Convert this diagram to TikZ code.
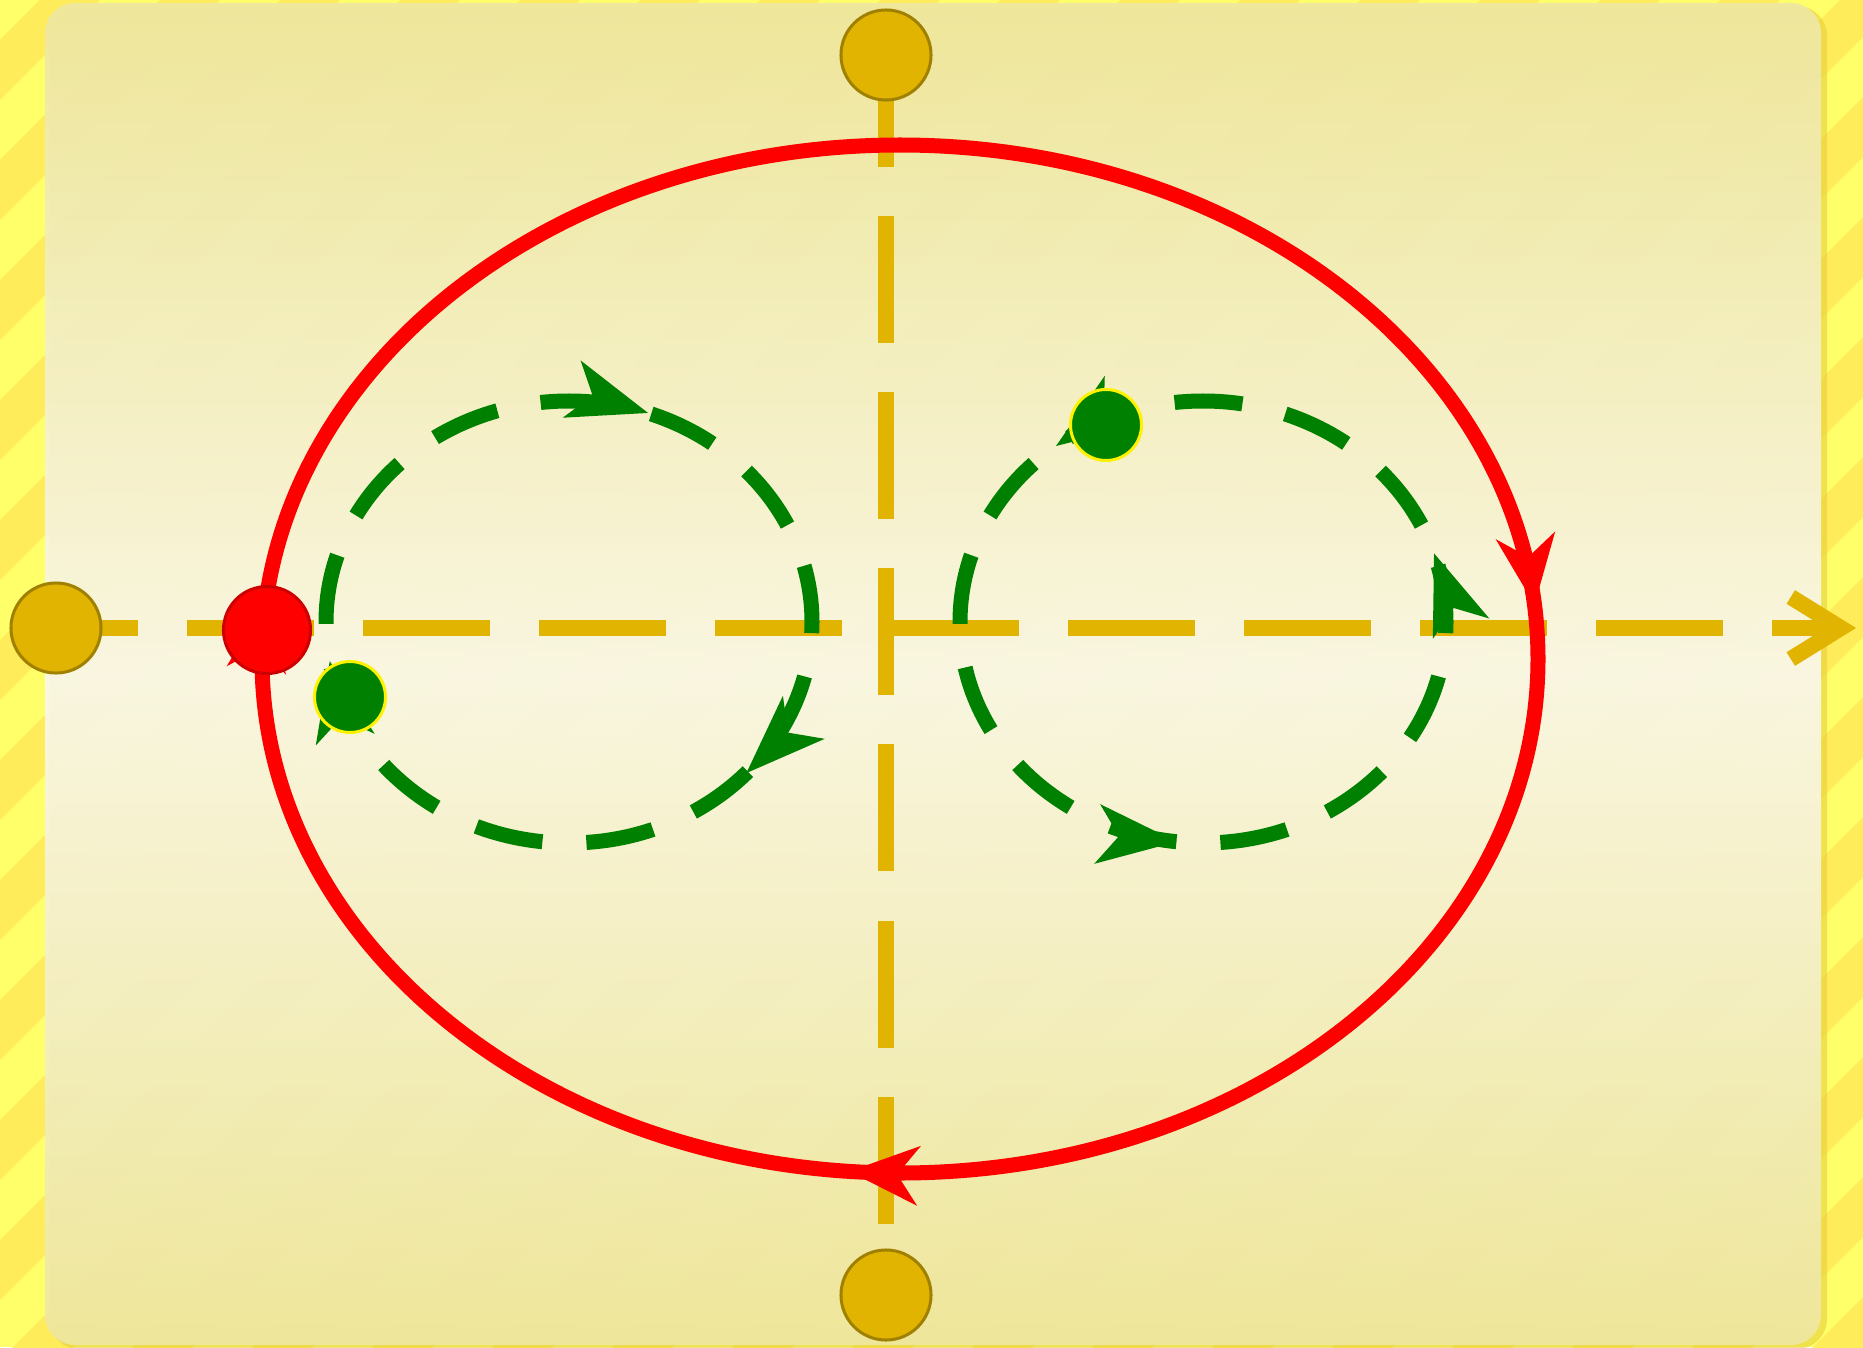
\documentclass[tikz,border=0pt]{standalone}
\usepackage{xcolor}
\usetikzlibrary{arrows.meta,decorations.markings}
\definecolor{stripeA}{HTML}{FFFF6A}
\definecolor{stripeB}{HTML}{FFEC5A}
\definecolor{gold}{HTML}{E0B400}
\definecolor{golddark}{HTML}{A08000}
\definecolor{orbitgreen}{HTML}{008000}
\definecolor{panelend}{HTML}{EEE7A0}
\definecolor{panelmid}{HTML}{FAF8EC}
\definecolor{panelshadow}{HTML}{E6CF3A}
\tikzset{
	redtip/.tip={Stealth[length=0.7cm,width=0.6cm,inset=0.22cm,line width=0pt]},
	greentip/.tip={Stealth[length=0.8cm,width=0.6cm,inset=0.22cm,line width=0pt]}
}
\begin{document}
\begin{tikzpicture}[x=0.01cm,y=0.01cm,
	axis/.style={draw=gold,line width=0.16cm,dash pattern=on 1.27cm off 0.49cm},
	planet/.style={circle,draw=golddark,fill=gold,line width=0.03cm,minimum size=0.9cm,inner sep=0pt},
	sun/.style={circle,draw=red!80!black,fill=red,line width=0.03cm,minimum size=0.87cm,inner sep=0pt},
	moon/.style={circle,draw=yellow,fill=orbitgreen,line width=0.03cm,minimum size=0.71cm,inner sep=0pt},
	bigorbit/.style={draw=red,line width=0.15cm,postaction={decorate},decoration={markings,
		mark=at position 0.235 with {\arrow{redtip}},
		mark=at position 0.514 with {\arrow{redtip}},
		mark=at position 0.766 with {\arrow{redtip}}}},
	smallorbit/.style={draw=orbitgreen,line width=0.15cm,dash pattern=on 0.68cm off 0.44cm},
	cworbit/.style={smallorbit,postaction={decorate},decoration={markings,
		mark=at position 0.305 with {\arrow{greentip}},
		mark=at position 0.616 with {\arrow{greentip}},
		mark=at position 0.973 with {\arrow{greentip}}}},
	ccworbit/.style={smallorbit,postaction={decorate},decoration={markings,
		mark=at position 0.143 with {\arrowreversed{greentip}},
		mark=at position 0.452 with {\arrowreversed{greentip}},
		mark=at position 0.768 with {\arrowreversed{greentip}}}}
	]
	\useasboundingbox (0,0) rectangle (1863,1347);

	% striped backdrop and panel
	\begin{scope}
		\clip (0,0) rectangle (1863,1347);
		\fill[stripeA] (0,0) rectangle (1863,1347);
		\foreach \k in {-1427,-1307,...,1933}
		{
		\fill[stripeB] (\k-10,-10) -- (\k+50,-10) -- (\k+1420,1360) -- (\k+1360,1360) -- cycle;
		}
	\end{scope}
	\fill[panelshadow,opacity=0.6,rounded corners=0.3cm] (49,-2) rectangle (1827,1341);
	\path[rounded corners=0.3cm,top color=panelend,bottom color=panelend,middle color=panelmid,fill opacity=0.93] (45,2) rectangle (1821,1344);

	% axes
	\coordinate (west) at (11,719);
	\coordinate (east) at (1856,719);
	\coordinate (north) at (886,1307);
	\coordinate (south) at (886,123);
	\draw[axis,-{Straight Barb[length=0.5cm,width=0.62cm]}] (west) -- (east);
	\draw[axis] (north) -- (south);

	% orbits
	\draw[bigorbit] (900,1202) arc[start angle=90,end angle=-270,x radius=638,y radius=514];
	\draw[cworbit] (326,725) arc[start angle=180,end angle=-180,x radius=243,y radius=221];
	\draw[ccworbit] (960,725) arc[start angle=180,end angle=-180,x radius=243,y radius=221];

	% bodies
	\node[planet] (left) at (56,719) {};
	\node[planet] (top) at (886,1292) {};
	\node[planet] (bottom) at (886,52) {};
	\node[sun] (star) at (267,717) {};
	\node[moon] (moonA) at (350,650) {};
	\node[moon] (moonB) at (1106,922) {};
\end{tikzpicture}
\end{document}
